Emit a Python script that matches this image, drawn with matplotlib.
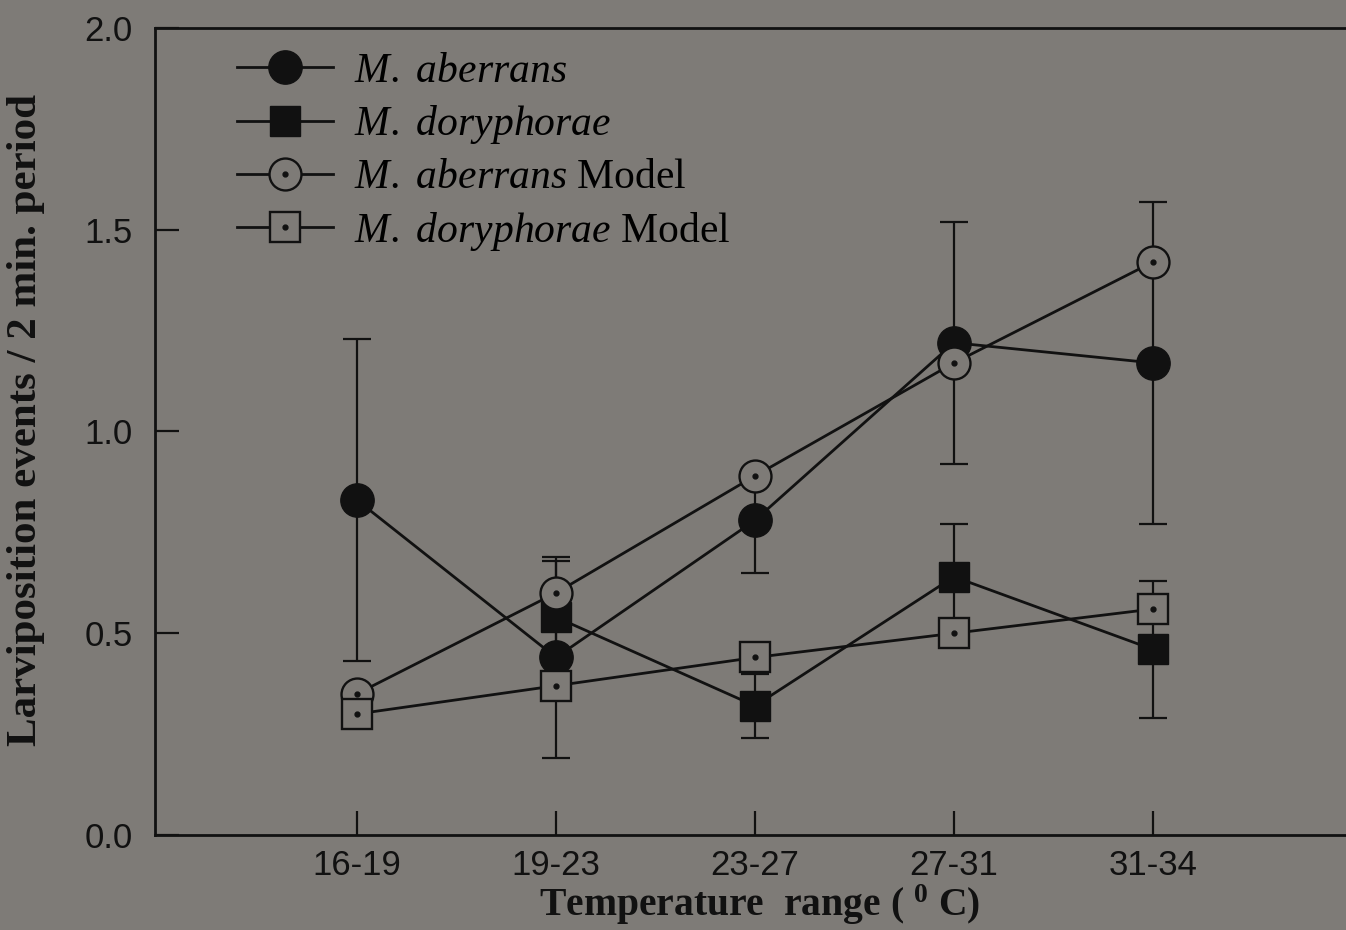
import numpy as np
import matplotlib.pyplot as plt
from matplotlib.lines import Line2D
from matplotlib.legend_handler import HandlerTuple

plt.rcParams['font.family'] = 'Liberation Sans'
plt.rcParams['mathtext.fontset'] = 'custom'
plt.rcParams['mathtext.rm'] = 'Liberation Serif'
plt.rcParams['mathtext.it'] = 'Liberation Serif:italic'
plt.rcParams['mathtext.bf'] = 'Liberation Serif:bold'

# data
temp_ranges = ['16-19', '19-23', '23-27', '27-31', '31-34']
aberrans_mean = [0.83, 0.44, 0.78, 1.22, 1.17]
aberrans_err = [0.40, 0.25, 0.13, 0.30, 0.40]
doryphorae_mean = [np.nan, 0.54, 0.32, 0.64, 0.46]
doryphorae_err = [np.nan, 0.14, 0.08, 0.13, 0.17]
aberrans_model = [0.35, 0.60, 0.89, 1.17, 1.42]
doryphorae_model = [0.30, 0.37, 0.44, 0.50, 0.56]

bg = '#7e7b77'
ink = '#111111'

fig = plt.figure(figsize=(13.46, 9.30), dpi=100, facecolor=bg)
ax = fig.add_axes([155 / 1346, 95 / 930, 1191 / 1346, 807 / 930])
ax.set_facecolor(bg)

x = np.arange(len(temp_ranges))

ax.errorbar(x, aberrans_mean, yerr=aberrans_err, fmt='-o', color=ink, ms=24,
            lw=2.0, elinewidth=1.6, capsize=10, capthick=1.6, zorder=3)
ax.errorbar(x, doryphorae_mean, yerr=doryphorae_err, fmt='-s', color=ink, ms=21,
            lw=2.0, elinewidth=1.6, capsize=10, capthick=1.6, zorder=3)

ax.plot(x, aberrans_model, '-o', color=ink, mfc=bg, mec=ink, mew=1.7, ms=23, lw=2.0, zorder=5)
ax.plot(x, aberrans_model, 'o', color=ink, ms=3.5, ls='none', zorder=6)
ax.plot(x, doryphorae_model, '-s', color=ink, mfc=bg, mec=ink, mew=1.7, ms=21, lw=2.0, zorder=7)
ax.plot(x, doryphorae_model, 'o', color=ink, ms=3.5, ls='none', zorder=8)

# legend proxies (no error bars in the key)
h1 = Line2D([], [], color=ink, marker='o', ms=24, lw=2.0)
h2 = Line2D([], [], color=ink, marker='s', ms=21, lw=2.0)
h3 = (Line2D([], [], color=ink, marker='o', mfc=bg, mec=ink, mew=1.7, ms=23, lw=2.0),
      Line2D([], [], color=ink, marker='o', ms=3.5, ls='none'))
h4 = (Line2D([], [], color=ink, marker='s', mfc=bg, mec=ink, mew=1.7, ms=21, lw=2.0),
      Line2D([], [], color=ink, marker='o', ms=3.5, ls='none'))
labels = [r'$\mathit{M.}$ $\mathit{aberrans}$', r'$\mathit{M.}$ $\mathit{doryphorae}$',
          r'$\mathit{M.}$ $\mathit{aberrans}$ Model', r'$\mathit{M.}$ $\mathit{doryphorae}$ Model']
ax.legend([h1, h2, h3, h4], labels, loc='upper left', bbox_to_anchor=(0.069, 0.97),
          frameon=False, prop={'family': 'Liberation Serif', 'size': 30},
          handlelength=2.3, handletextpad=0.5, labelspacing=0.3, borderpad=0,
          borderaxespad=0, handler_map={tuple: HandlerTuple(ndivide=1)})

ax.set_xlim(-1.015, 4.97)
ax.set_ylim(0, 2.0)
ax.set_xticks(x)
ax.set_xticklabels(temp_ranges)
ax.set_yticks([0, 0.5, 1.0, 1.5, 2.0])
ax.set_yticklabels(['0.0', '0.5', '1.0', '1.5', '2.0'])
ax.tick_params(axis='both', direction='in', length=17, width=1.6, labelsize=25, colors=ink)
ax.tick_params(axis='y', pad=16)
ax.tick_params(axis='x', pad=10)

ax.spines['right'].set_visible(False)
for s in ['left', 'top', 'bottom']:
    ax.spines[s].set_linewidth(2.0)
    ax.spines[s].set_color(ink)

ax.set_xlabel(r'Temperature  range ( $^{\mathbf{0}}$ C)', family='Liberation Serif',
              fontweight='bold', fontsize=28.5, color=ink, va='center')
ax.xaxis.set_label_coords(0.508, -0.086)
ax.set_ylabel('Larviposition events / 2 min. period', family='Liberation Serif',
              fontweight='bold', fontsize=31, color=ink, va='center', ha='center')
ax.yaxis.set_label_coords(-0.108, 0.514)

fig.savefig('out.png', dpi=100, facecolor=bg)
